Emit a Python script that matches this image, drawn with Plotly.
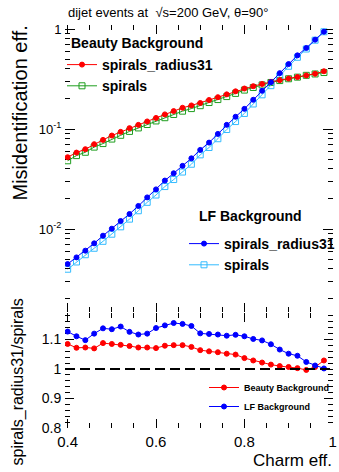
import plotly.graph_objects as go

# ---------------- data ----------------
charm_eff = [0.40, 0.42, 0.44, 0.46, 0.48, 0.50, 0.52, 0.54, 0.56, 0.58,
             0.60, 0.62, 0.64, 0.66, 0.68, 0.70, 0.72, 0.74, 0.76, 0.78,
             0.80, 0.82, 0.84, 0.86, 0.88, 0.90, 0.92, 0.94, 0.96, 0.98]

beauty_radius31 = [0.0522, 0.0581, 0.0628, 0.0705, 0.0778, 0.0860, 0.0936, 0.102, 0.110, 0.119,
                   0.129, 0.140, 0.151, 0.163, 0.172, 0.182, 0.195, 0.208, 0.222, 0.238,
                   0.254, 0.268, 0.282, 0.296, 0.308, 0.320, 0.331, 0.343, 0.357, 0.378]
beauty_spirals = [0.0481, 0.0542, 0.0585, 0.0659, 0.0715, 0.0793, 0.0865, 0.0946, 0.1025, 0.1109,
                  0.1204, 0.1297, 0.1397, 0.1508, 0.160, 0.171, 0.184, 0.197, 0.211, 0.227,
                  0.245, 0.260, 0.276, 0.292, 0.305, 0.318, 0.330, 0.344, 0.355, 0.367]
lf_radius31 = [0.00446, 0.00520, 0.00607, 0.00719, 0.00857, 0.01007, 0.01202, 0.01413, 0.0170, 0.0207,
               0.0249, 0.0305, 0.0361, 0.0428, 0.0509, 0.0618, 0.0731, 0.0893, 0.110, 0.1325,
               0.159, 0.196, 0.241, 0.294, 0.362, 0.446, 0.545, 0.646, 0.782, 0.940]
lf_spirals = [0.00396, 0.00468, 0.00553, 0.00642, 0.00753, 0.00887, 0.01051, 0.01255, 0.01522, 0.01848,
              0.02186, 0.02657, 0.03123, 0.03712, 0.04442, 0.05513, 0.06533, 0.07995, 0.09883, 0.1187,
              0.1431, 0.1779, 0.2197, 0.2712, 0.3396, 0.4240, 0.5215, 0.6309, 0.7727, 0.9381]

ratio_beauty = [1.085, 1.072, 1.073, 1.070, 1.088, 1.085, 1.082, 1.078, 1.073, 1.073,
                1.071, 1.079, 1.081, 1.081, 1.075, 1.064, 1.060, 1.057, 1.052, 1.049,
                1.037, 1.029, 1.022, 1.015, 1.010, 1.007, 1.003, 0.997, 1.007, 1.029]
ratio_lf = [1.127, 1.111, 1.098, 1.120, 1.138, 1.135, 1.144, 1.126, 1.117, 1.120,
            1.139, 1.148, 1.156, 1.153, 1.146, 1.121, 1.119, 1.117, 1.113, 1.116,
            1.111, 1.102, 1.097, 1.084, 1.066, 1.052, 1.045, 1.024, 1.012, 1.002]

unity = 1.0

top_ytickvals = [0.01, 0.1, 1]
top_yticktext = ["10<sup>-2</sup>", "10<sup>-1</sup>", "1"]
top_yminor = [m * 10 ** e for e in (-3, -2, -1) for m in range(2, 10)]
x_tickvals = [0.4, 0.6, 0.8, 1.0]
x_ticktext = ["0.4", "0.6", "0.8", "1"]
r_tickvals = [0.8, 0.9, 1.0, 1.1]
r_ticktext = ["0.8", "0.9", "1", "1.1"]

# ---------------- style ----------------
FONT = "Liberation Sans, Arial, Helvetica, sans-serif"
RED = "#ff0000"
GREEN = "#1f9e1f"
BLUE = "#0000ff"
CYAN = "#33bbff"

fig = go.Figure()

def add(x, y, color, symbol, size, name, legend, xa, ya, z, rank):
    fig.add_trace(go.Scatter(
        x=x, y=y, mode="lines+markers", name=name, legend=legend,
        xaxis=xa, yaxis=ya, zorder=z, legendrank=rank,
        line=dict(color=color, width=1),
        marker=dict(color=color, symbol=symbol, size=size,
                    line=dict(color=color, width=1)),
    ))

add(charm_eff, beauty_spirals, GREEN, "square-open", 6, "spirals", "legend", "x", "y", 1, 2)
add(charm_eff, beauty_radius31, RED, "circle", 5, "spirals_radius31", "legend", "x", "y", 2, 1)
add(charm_eff, lf_spirals, CYAN, "square-open", 6, "spirals", "legend2", "x", "y", 1, 2)
add(charm_eff, lf_radius31, BLUE, "circle", 5, "spirals_radius31", "legend2", "x", "y", 2, 1)
add(charm_eff, ratio_beauty, RED, "circle", 5, "Beauty Background", "legend3", "x2", "y2", 2, 1)
add(charm_eff, ratio_lf, BLUE, "circle", 5, "LF Background", "legend3", "x2", "y2", 2, 2)

# geometry
L, R, T, B = 65, 6, 25, 44
W, H = 339, 472
PW, PH = W - L - R, H - T - B

def px(x):
    return (x - L) / PW

def py(y):
    return (H - B - y) / PH

xr = [0.394, 1.0005]
axis_common = dict(showline=True, linecolor="black", linewidth=1, mirror="ticks",
                   ticks="inside", tickcolor="black", showgrid=False, zeroline=False)

fig.update_layout(
    width=W, height=H,
    margin=dict(l=L, r=R, t=T, b=B, autoexpand=False),
    paper_bgcolor="white", plot_bgcolor="white",
    font=dict(family=FONT, color="black"),
    xaxis=dict(domain=[0, 1], anchor="y", range=xr, showticklabels=False,
               tickvals=x_tickvals, ticklen=9,
               minor=dict(ticks="inside", ticklen=5, dtick=0.05, tick0=0.4, tickcolor="black"),
               **axis_common),
    yaxis=dict(domain=[py(312), 1], anchor="x", type="log", range=[-2.83, 0.04],
               tickvals=top_ytickvals, ticktext=top_yticktext, ticklen=10,
               tickfont=dict(size=13, family=FONT),
               minor=dict(ticks="inside", ticklen=5, tickvals=top_yminor, tickcolor="black"),
               **axis_common),
    xaxis2=dict(domain=[0, 1], anchor="y2", range=xr,
                tickvals=x_tickvals, ticktext=x_ticktext, ticklen=9,
                tickfont=dict(size=15, family=FONT),
                minor=dict(ticks="inside", ticklen=5, dtick=0.05, tick0=0.4, tickcolor="black"),
                **axis_common),
    yaxis2=dict(domain=[0, py(313)], anchor="x2", range=[0.8, 1.19],
                tickvals=r_tickvals, ticktext=r_ticktext, ticklen=9,
                tickfont=dict(size=14, family=FONT),
                minor=dict(ticks="inside", ticklen=5, dtick=0.02, tick0=0.8, tickcolor="black"),
                **axis_common),
    legend=dict(x=px(62), y=py(49), xanchor="left", yanchor="top",
                bgcolor="rgba(0,0,0,0)", font=dict(size=14, family=FONT, weight="bold"),
                itemwidth=30, tracegroupgap=0),
    legend2=dict(x=px(184), y=py(228), xanchor="left", yanchor="top",
                 bgcolor="rgba(0,0,0,0)", font=dict(size=14, family=FONT, weight="bold"),
                 itemwidth=30),
    legend3=dict(x=px(204), y=py(373), xanchor="left", yanchor="top",
                 bgcolor="rgba(0,0,0,0)", font=dict(size=9, family=FONT, weight="bold"),
                 itemwidth=30),
    shapes=[dict(type="line", xref="x2 domain", x0=0, x1=1, yref="y2", y0=unity, y1=unity,
                 line=dict(color="black", width=2, dash="10px,5px"))],
)

ann = [
    dict(text="dijet events at  √s=200 GeV, θ=90°", x=px(66), y=py(12), xanchor="left",
         yanchor="middle", font=dict(size=13)),
    dict(text="Misidentification eff.", x=px(19.5), y=py(113), textangle=-90,
         xanchor="center", yanchor="middle", font=dict(size=20)),
    dict(text="spirals_radius31/spirals", x=px(17.5), y=py(382), textangle=-90,
         xanchor="center", yanchor="middle", font=dict(size=16)),
    dict(text="Charm eff.", x=px(334), y=py(460), xanchor="right", yanchor="middle",
         font=dict(size=17)),
    dict(text="<b>Beauty Background</b>", x=px(69), y=py(43), xanchor="left",
         yanchor="middle", font=dict(size=14)),
    dict(text="<b>LF Background</b>", x=px(197), y=py(216), xanchor="left",
         yanchor="middle", font=dict(size=14)),
]
for a in ann:
    a.update(xref="paper", yref="paper", showarrow=False)
    a["font"] = dict(family=FONT, color="black", **a["font"])
fig.update_layout(annotations=ann)

fig.write_html("out.html", config={"displayModeBar": False},
               post_script="document.body.style.margin='0';document.body.style.overflow='hidden';")
